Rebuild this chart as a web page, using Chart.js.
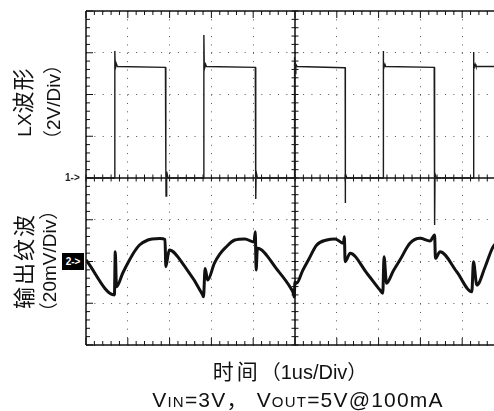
<!DOCTYPE html>
<html>
<head>
<meta charset="utf-8">
<script src="https://cdn.jsdelivr.net/npm/chart.js@4/dist/chart.umd.min.js"></script>
<style>
html,body{margin:0;padding:0;overflow:hidden;background:#fff;width:494px;height:411px;}
#wrap{position:absolute;left:0;top:0;width:494px;height:411px;overflow:hidden;}
#box{position:absolute;left:0;top:0;width:520px;height:411px;}
.lbl{position:absolute;font-family:"Liberation Sans","Noto Sans CJK SC",sans-serif;color:#111;white-space:nowrap;}
.cn{font-family:"Noto Sans CJK SC",sans-serif;font-weight:400;}
.rot{transform:translate(-50%,-50%) rotate(-90deg);text-align:center;line-height:28px;}
.mk{position:absolute;font-family:"Liberation Sans",sans-serif;font-weight:bold;font-size:10px;}
</style>
</head>
<body>
<div id="wrap">
  <div id="box"><canvas id="c"></canvas></div>
  <div class="lbl rot" style="left:37px;top:102px;">
    <div><span style="font-size:19px">LX</span><span class="cn" style="font-size:22px;letter-spacing:1px">波形</span></div>
    <div style="font-size:19px">（2V/Div）</div>
  </div>
  <div class="lbl rot" style="left:36px;top:261px;">
    <div class="cn" style="font-size:22px;letter-spacing:2px">输出纹波</div>
    <div style="font-size:19px">（20mV/Div）</div>
  </div>
  <div class="lbl" style="left:290px;top:370px;transform:translate(-50%,-50%);font-size:20px;"><span class="cn" style="font-size:21px;letter-spacing:3px">时间</span>（1us/Div）</div>
  <div class="lbl" style="left:298px;top:398px;transform:translate(-50%,-50%);font-size:21px;letter-spacing:1.2px;">V<span style="font-size:15px">IN</span>=3V<span style="margin-right:8px">，</span>V<span style="font-size:15px">OUT</span>=5V@100mA</div>
  <div class="mk" style="left:65px;top:172px;color:#222;">1-&gt;</div>
  <div class="mk" style="left:62px;top:253px;width:22px;height:17px;background:#000;color:#fff;line-height:17px;text-align:center;">2-&gt;</div>
</div>
<script>
// Channel 1: LX waveform (volts, 2V/div) vs time (us, 1us/div)
const ch1Time = [0, 0.69, 0.69, 0.70, 0.72, 0.75, 1.90, 1.91, 1.91, 1.915, 1.93, 1.96,
  2.82, 2.82, 2.83, 2.86, 2.88, 4.05, 4.06, 4.06, 4.063, 4.07, 4.10,
  4.99, 4.99, 5.00, 5.02, 5.05, 6.19, 6.20, 6.20, 6.21, 6.24,
  7.11, 7.11, 7.12, 7.15, 7.17, 8.33, 8.34, 8.34, 8.35, 8.38,
  9.27, 9.27, 9.28, 9.31, 9.33, 10];
const ch1Volt = [0, 0, 6.08, 5.2, 5.5, 5.34, 5.30, 5.30, 0.5, -0.86, 0.3, 0,
  0, 6.85, 5.2, 5.45, 5.34, 5.30, 5.30, 0.7, -1.0, 0.3, 0,
  0, 5.8, 5.0, 5.45, 5.34, 5.28, 5.28, -1.2, 0.2, 0,
  0, 6.08, 5.2, 5.45, 5.34, 5.30, 5.30, -2.25, 0.2, 0,
  0, 6.03, 5.2, 5.45, 5.34, 5.34];

// Channel 2: output ripple (mV, 20mV/div)
const ch2Time = [0, 0.68, 0.70, 0.73, 0.88, 1.04, 1.16, 1.28, 1.48, 1.58, 1.77, 1.89, 1.91, 1.99, 2.37, 2.79, 2.81, 2.85, 2.91, 3.07,
  3.20, 3.33, 3.56, 3.80, 4.02, 4.05, 4.07, 4.10, 4.58, 4.90, 4.96, 4.98, 5.00, 5.04, 5.18, 5.32, 5.52, 5.76, 5.96, 6.16,
  6.18, 6.20, 6.32, 6.72, 7.03, 7.10, 7.13, 7.19, 7.35, 7.51, 7.75, 7.99, 8.23, 8.34, 8.36, 8.47, 8.87, 9.23, 9.27, 9.35, 9.55, 9.74, 10];
const ch2mV = [0.7, -16.0, 4.7, -12.1, -5.5, 0.7, 4.8, 7.9, 10.3, 10.8, 11.0, 10.5, -2.5, 5.5, -2.6, -16.0, -16.9, -3.3, -8.9, -0.9,
  3.5, 6.5, 10.3, 10.8, 9.3, 14.3, -4.1, 6.3, -4.1, -12.8, -15.2, -17.0, -9.8, -10.4, -4.5, 0.7, 7.9, 10.3, 10.8, 8.7,
  11.9, -0.1, 3.9, -5.6, -13.6, -15.2, 2.3, -10.4, -4.5, 0.7, 8.7, 11.1, 9.8, 12.7, 1.5, 4.7, -4.9, -14.5, -0.1, -11.3, -2.5, 7.1, 10.5];

const ch1 = ch1Time.map((t, i) => ({x: t, y: ch1Volt[i]}));
const ch2 = ch2Time.map((t, i) => ({x: t, y: ch2mV[i]}));

const scopeFrame = {
  id: 'scopeFrame',
  beforeDatasetsDraw(chart) {
    const ctx = chart.ctx, xs = chart.scales.x, ys = chart.scales.y1;
    const L = xs.getPixelForValue(0), R = xs.getPixelForValue(10);
    const T = ys.getPixelForValue(8), B = ys.getPixelForValue(-8);
    const cx = xs.getPixelForValue(5), cy = ys.getPixelForValue(0);
    ctx.save();
    ctx.strokeStyle = '#111';
    ctx.lineWidth = 1.5;
    ctx.beginPath();
    ctx.moveTo(L, T); ctx.lineTo(R, T);
    ctx.moveTo(L, B); ctx.lineTo(R, B);
    ctx.moveTo(L, T); ctx.lineTo(L, B);
    ctx.moveTo(L, cy); ctx.lineTo(R, cy);
    ctx.moveTo(cx, T); ctx.lineTo(cx, B);
    ctx.stroke();
    ctx.lineWidth = 1;
    ctx.beginPath();
    for (let i = 0; i <= 50; i++) {
      const x = xs.getPixelForValue(i * 0.2);
      const major = i % 5 === 0;
      const len = major ? 7 : 4;
      ctx.moveTo(x, T); ctx.lineTo(x, T + len);
      ctx.moveTo(x, B); ctx.lineTo(x, B - len);
      ctx.moveTo(x, cy - 3.5); ctx.lineTo(x, cy + 3.5);
    }
    for (let i = 0; i <= 40; i++) {
      const y = ys.getPixelForValue(-8 + i * 0.4);
      const major = i % 5 === 0;
      const len = major ? 7 : 4;
      ctx.moveTo(L, y); ctx.lineTo(L + len, y);
      ctx.moveTo(cx - 3.5, y); ctx.lineTo(cx + 3.5, y);
    }
    ctx.stroke();
    ctx.restore();
  }
};

new Chart(document.getElementById('c'), {
  type: 'line',
  data: {
    datasets: [
      {data: ch1, yAxisID: 'y1', borderColor: '#1c1c1c', borderWidth: 1.4, pointRadius: 0, tension: 0, fill: false},
      {data: ch2, yAxisID: 'y2', borderColor: '#111', borderWidth: 3, pointRadius: 0, cubicInterpolationMode: 'monotone', fill: false}
    ]
  },
  options: {
    responsive: true,
    maintainAspectRatio: false,
    animation: false,
    events: [],
    layout: {padding: {left: 86, top: 11, right: 16, bottom: 66}},
    plugins: {legend: {display: false}, tooltip: {enabled: false}},
    scales: {
      x: {type: 'linear', min: 0, max: 10,
        ticks: {display: false, stepSize: 1},
        grid: {color: '#555', lineWidth: 1, drawTicks: false},
        border: {display: false, dash: [1, 7.36]}},
      y1: {type: 'linear', position: 'left', min: -8, max: 8,
        ticks: {display: false, stepSize: 2},
        grid: {color: '#555', lineWidth: 1, drawTicks: false},
        border: {display: false, dash: [1, 7.35]}},
      y2: {type: 'linear', display: false, min: -40, max: 120}
    }
  },
  plugins: [scopeFrame]
});
</script>
</body>
</html>
